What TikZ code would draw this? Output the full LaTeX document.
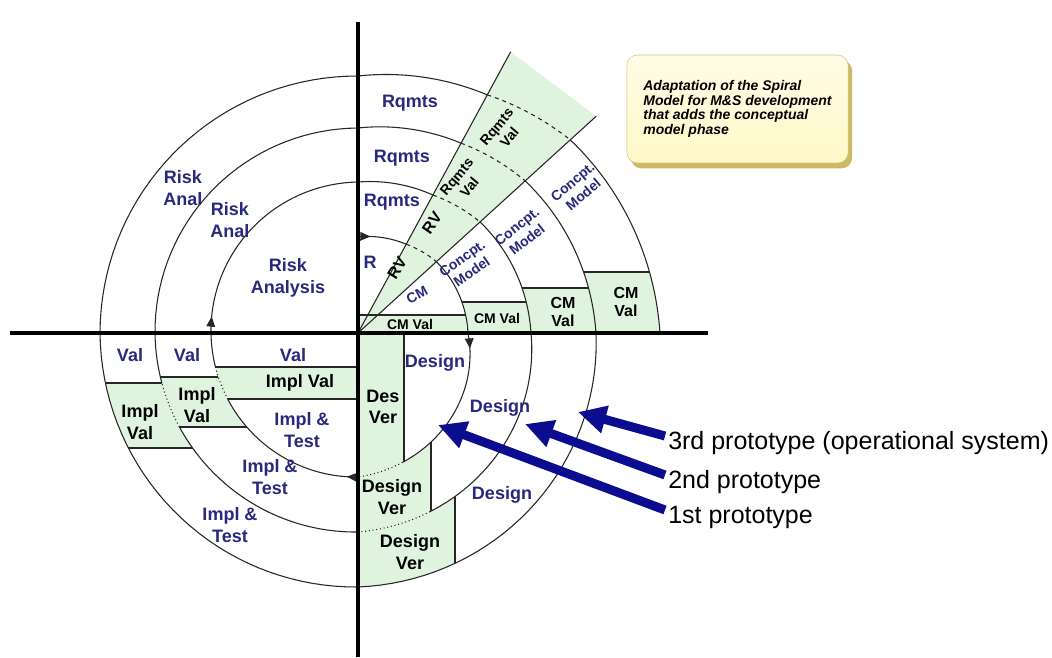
\documentclass[tikz,border=0pt]{standalone}
\usepackage{fontspec}
\setmainfont{Liberation Sans}
\usetikzlibrary{arrows.meta, decorations.markings, shadows}

\definecolor{phaseblue}{RGB}{40,40,125}
\definecolor{vergreen}{RGB}{224,243,222}
\definecolor{protoblue}{RGB}{12,12,145}
\definecolor{notefill}{RGB}{255,248,200}
\definecolor{noteedge}{RGB}{215,198,120}
\definecolor{noteshadow}{RGB}{205,185,100}

% one piece of the spiral: angle #1 -> #2, radius #3 -> #4
\newcommand{\spiralarc}[4]{plot[domain=#1:#2, samples=36, variable=\t]
  ({(#3+(#4-#3)*(\t-(#1))/((#2)-(#1)))*cos(\t)},
   {(#3+(#4-#3)*(\t-(#1))/((#2)-(#1)))*sin(\t)})}
% the same piece closed to the centre
\newcommand{\spiralsector}[4]{(0,0) -- plot[domain=#1:#2, samples=36, variable=\t]
  ({(#3+(#4-#3)*(\t-(#1))/((#2)-(#1)))*cos(\t)},
   {(#3+(#4-#3)*(\t-(#1))/((#2)-(#1)))*sin(\t)}) -- cycle}

\begin{document}
\begin{tikzpicture}[
    x=0.75pt, y=0.75pt,
    % Styles
    phase/.style={text=phaseblue, font=\bfseries\fontsize{13.5}{16}\selectfont, align=center, inner sep=0pt},
    check/.style={text=black, font=\bfseries\fontsize{13.5}{16}\selectfont, align=center, inner sep=0pt},
    tiny_text/.style={font=\bfseries\fontsize{10.5}{12.5}\selectfont},
    mid_text/.style={font=\bfseries\fontsize{12}{14}\selectfont},
    turn/.style={draw=black!85, line width=0.8pt},
    cell/.style={draw=black!85, line width=0.8pt},
    verfill/.style={fill=vergreen},
    flow/.style={postaction={decorate}, decoration={markings, mark=at position #1 with {\arrow{Triangle[length=7.5pt, width=6.5pt]}}}},
    axis/.style={line width=2.3pt},
    proto/.style={draw=protoblue, line width=6.75pt, -{Triangle[length=21pt, width=20pt]}},
    proto_text/.style={font=\fontsize{18.75}{22}\selectfont, inner sep=0pt, anchor=west},
    note/.style={draw=noteedge, top color=notefill!45!white, bottom color=notefill, rounded corners=8pt,
                 minimum width=166pt, minimum height=81pt,
                 align=left, font=\bfseries\itshape\fontsize{10.5}{11}\selectfont,
                 drop shadow={fill=noteshadow, opacity=1, shadow xshift=3pt, shadow yshift=-4pt}}
]
    \path[use as bounding box, fill=white] (-358,-324) rectangle (694,333);

    % --- CALLOUT ---
    \node[note] (note) at (379.5,224) {Adaptation of the Spiral\\Model for M\&S development\\that adds the conceptual\\model phase};

    % --- REQUIREMENTS VALIDATION WEDGE ---
    \coordinate (origin) at (0,0);
    \coordinate (wedgeL) at (61.5:320);
    \coordinate (wedgeR) at (42.3:322);
    \fill[verfill] (origin) -- (wedgeL) -- (wedgeR) -- cycle;

    % --- CM VAL BOXES (outer turn first) ---
    \begin{scope}
        \clip \spiralsector{42.3}{0}{287}{302};
        \fill[verfill] (0,0) rectangle (400,61);
        \draw[cell] (0,61) -- (400,61);
    \end{scope}
    \fill[white] \spiralsector{42.3}{0}{226}{238};
    \begin{scope}
        \clip \spiralsector{42.3}{0}{226}{238};
        \fill[verfill] (0,0) rectangle (400,45);
        \draw[cell] (0,45) -- (400,45);
    \end{scope}
    \fill[white] \spiralsector{42.3}{0}{165}{173};
    \begin{scope}
        \clip \spiralsector{42.3}{0}{165}{173};
        \fill[verfill] (0,0) rectangle (400,31);
        \draw[cell] (0,31) -- (400,31);
    \end{scope}
    \fill[white] \spiralsector{42.3}{0}{106}{110};
    \fill[verfill] (0,0) rectangle (108,18);
    \draw[cell] (0,18) -- (108,18);

    % --- DESIGN VERIFICATION (lower right) ---
    \begin{scope}
        \clip \spiralsector{0}{-90}{238}{254};
        \fill[verfill] (0,0) rectangle (97,-300);
        \draw[cell] (97,0) -- (97,-300);
    \end{scope}
    \fill[white] \spiralsector{0}{-90}{173}{199};
    \begin{scope}
        \clip \spiralsector{0}{-90}{173}{199};
        \fill[verfill] (0,0) rectangle (73,-300);
        \draw[cell] (73,0) -- (73,-300);
    \end{scope}
    \fill[white] \spiralsector{0}{-90}{110}{144};
    \begin{scope}
        \clip \spiralsector{0}{-90}{110}{144};
        \fill[verfill] (0,0) rectangle (46,-300);
        \draw[cell] (46,0) -- (46,-300);
    \end{scope}

    % --- IMPLEMENTATION VALIDATION (lower left) ---
    \begin{scope}
        \clip \spiralsector{-90}{-180}{254}{258};
        \fill[verfill] (0,-50) rectangle (-300,-115);
        \draw[cell] (0,-50) -- (-300,-50);
        \draw[cell] (0,-115) -- (-300,-115);
    \end{scope}
    \fill[white] \spiralsector{-90}{-180}{199}{203};
    \begin{scope}
        \clip \spiralsector{-90}{-180}{199}{203};
        \fill[verfill] (0,-44) rectangle (-300,-94);
        \draw[cell] (0,-44) -- (-300,-44);
        \draw[cell] (0,-94) -- (-300,-94);
    \end{scope}
    \fill[white] \spiralsector{-90}{-180}{144}{147};
    \begin{scope}
        \clip \spiralsector{-90}{-180}{144}{147};
        \fill[verfill] (0,-34) rectangle (-300,-66);
        \draw[cell] (0,-34) -- (-300,-34);
        \draw[cell] (0,-66) -- (-300,-66);
    \end{scope}

    % --- SPIRAL ---
    % turn 1
    \draw[turn, flow=0.25] \spiralarc{90}{61.5}{96}{101};
    \draw[turn, dashed] \spiralarc{61.5}{42.3}{101}{106};
    \draw[turn] \spiralarc{42.3}{0}{106}{110};
    \draw[turn, flow=0.1] \spiralarc{0}{-71}{110}{136.8};
    \draw[turn, dotted] \spiralarc{-71}{-90}{136.8}{144};
    \draw[turn, flow=0.07] \spiralarc{-90}{-153}{144}{146.1};
    \draw[turn, dotted] \spiralarc{-153}{-166.5}{146.1}{146.55};
    \draw[turn] \spiralarc{-166.5}{-180}{146.55}{147};
    \draw[turn, flow=0.07] \spiralarc{180}{90}{147}{151};
    % turn 2
    \draw[turn] \spiralarc{90}{61.5}{151}{157};
    \draw[turn, dashed] \spiralarc{61.5}{42.3}{157}{165};
    \draw[turn] \spiralarc{42.3}{0}{165}{173};
    \draw[turn] \spiralarc{0}{-68}{173}{192.6};
    \draw[turn, dotted] \spiralarc{-68}{-90}{192.6}{199};
    \draw[turn] \spiralarc{-90}{-152.3}{199}{201.8};
    \draw[turn, dotted] \spiralarc{-152.3}{-165.7}{201.8}{202.4};
    \draw[turn] \spiralarc{-165.7}{-180}{202.4}{203};
    \draw[turn] \spiralarc{180}{90}{203}{205};
    % turn 3
    \draw[turn] \spiralarc{90}{61.5}{205}{216};
    \draw[turn, dashed] \spiralarc{61.5}{42.3}{216}{226};
    \draw[turn] \spiralarc{42.3}{0}{226}{238};
    \draw[turn] \spiralarc{0}{-90}{238}{254};
    \draw[turn] \spiralarc{-90}{-180}{254}{258};
    \draw[turn] \spiralarc{180}{90}{258}{257};
    % turn 4
    \draw[turn] \spiralarc{90}{61.5}{257}{271};
    \draw[turn, dashed] \spiralarc{61.5}{42.3}{271}{287};
    \draw[turn] \spiralarc{42.3}{0}{287}{302};

    % wedge edges
    \draw[cell] (origin) -- (wedgeL);
    \draw[cell] (origin) -- (wedgeR);

    % --- AXES ---
    \coordinate (axisN) at (0,311);
    \coordinate (axisS) at (0,-324);
    \coordinate (axisW) at (-348,0);
    \coordinate (axisE) at (350,0);
    \draw[axis] (axisN) -- (axisS);
    \draw[axis] (axisW) -- (axisE);

    % --- UPPER RIGHT: REQUIREMENTS AND CONCEPTUAL MODEL ---
    \node[phase] (rqmtsC) at (52,230) {Rqmts};
    \node[phase] (rqmtsB) at (44,175) {Rqmts};
    \node[phase] (rqmtsA) at (34,131) {Rqmts};
    \node[phase] (req) at (12,71) {R};
    \node[check, mid_text, rotate=58] (rvA) at (39,65) {RV};
    \node[check, mid_text, rotate=55] (rvB) at (74,110) {RV};
    \node[check, tiny_text, rotate=50] (rvalB) at (105,151) {Rqmts\\Val};
    \node[check, tiny_text, rotate=50] (rvalC) at (145,201) {Rqmts\\Val};
    \node[phase, tiny_text, rotate=28] (cm) at (59,38) {CM};
    \node[phase, tiny_text, rotate=35] (cmodA) at (109,68) {Concpt.\\Model};
    \node[phase, tiny_text, rotate=38] (cmodB) at (164,100) {Concpt.\\Model};
    \node[phase, tiny_text, rotate=40] (cmodC) at (220,145) {Concpt.\\Model};
    \node[check, tiny_text] (cmvalA) at (52,9) {CM Val};
    \node[check, tiny_text] (cmvalB) at (139,15) {CM Val};
    \node[check, mid_text] (cmvalC) at (205,21) {CM\\Val};
    \node[check, mid_text] (cmvalD) at (268,31) {CM\\Val};

    % --- UPPER LEFT: RISK ANALYSIS ---
    \node[phase] (riskC) at (-175,145) {Risk\\Anal};
    \node[phase] (riskB) at (-128,113) {Risk\\Anal};
    \node[phase] (riskA) at (-70,55) {Risk\\Analysis};

    % --- LOWER LEFT: IMPLEMENTATION ---
    \node[phase] (valC) at (-228,-22) {Val};
    \node[phase] (valB) at (-171,-22) {Val};
    \node[phase] (valA) at (-65,-22) {Val};
    \node[check] (ivalA) at (-58,-50) {Impl Val};
    \node[check] (ivalB) at (-161,-72) {Impl\\Val};
    \node[check] (ivalC) at (-218,-89) {Impl\\Val};
    \node[phase] (itestA) at (-56,-97) {Impl \&\\Test};
    \node[phase] (itestB) at (-88,-144) {Impl \&\\Test};
    \node[phase] (itestC) at (-128,-192) {Impl \&\\Test};

    % --- LOWER RIGHT: DESIGN ---
    \node[check] (dverA) at (25,-74) {Des\\Ver};
    \node[check] (dverB) at (34,-164) {Design\\Ver};
    \node[check] (dverC) at (52,-219) {Design\\Ver};
    \node[phase] (desA) at (77,-30) {Design};
    \node[phase] (desB) at (142,-75) {Design};
    \node[phase] (desC) at (144,-162) {Design};

    % --- PROTOTYPES ---
    \coordinate (tip1) at (80,-92);
    \coordinate (tip2) at (167,-91);
    \coordinate (tip3) at (220,-79);
    \node[proto_text] (proto3) at (310,-110) {3rd prototype (operational system)};
    \node[proto_text] (proto2) at (310,-149) {2nd prototype};
    \node[proto_text] (proto1) at (310,-184) {1st prototype};
    \draw[proto] ([shift={(-3,7)}]proto3.west) -- (tip3);
    \draw[proto] ([shift={(-3,7)}]proto2.west) -- (tip2);
    \draw[proto] ([shift={(-3,7)}]proto1.west) -- (tip1);

\end{tikzpicture}
\end{document}
